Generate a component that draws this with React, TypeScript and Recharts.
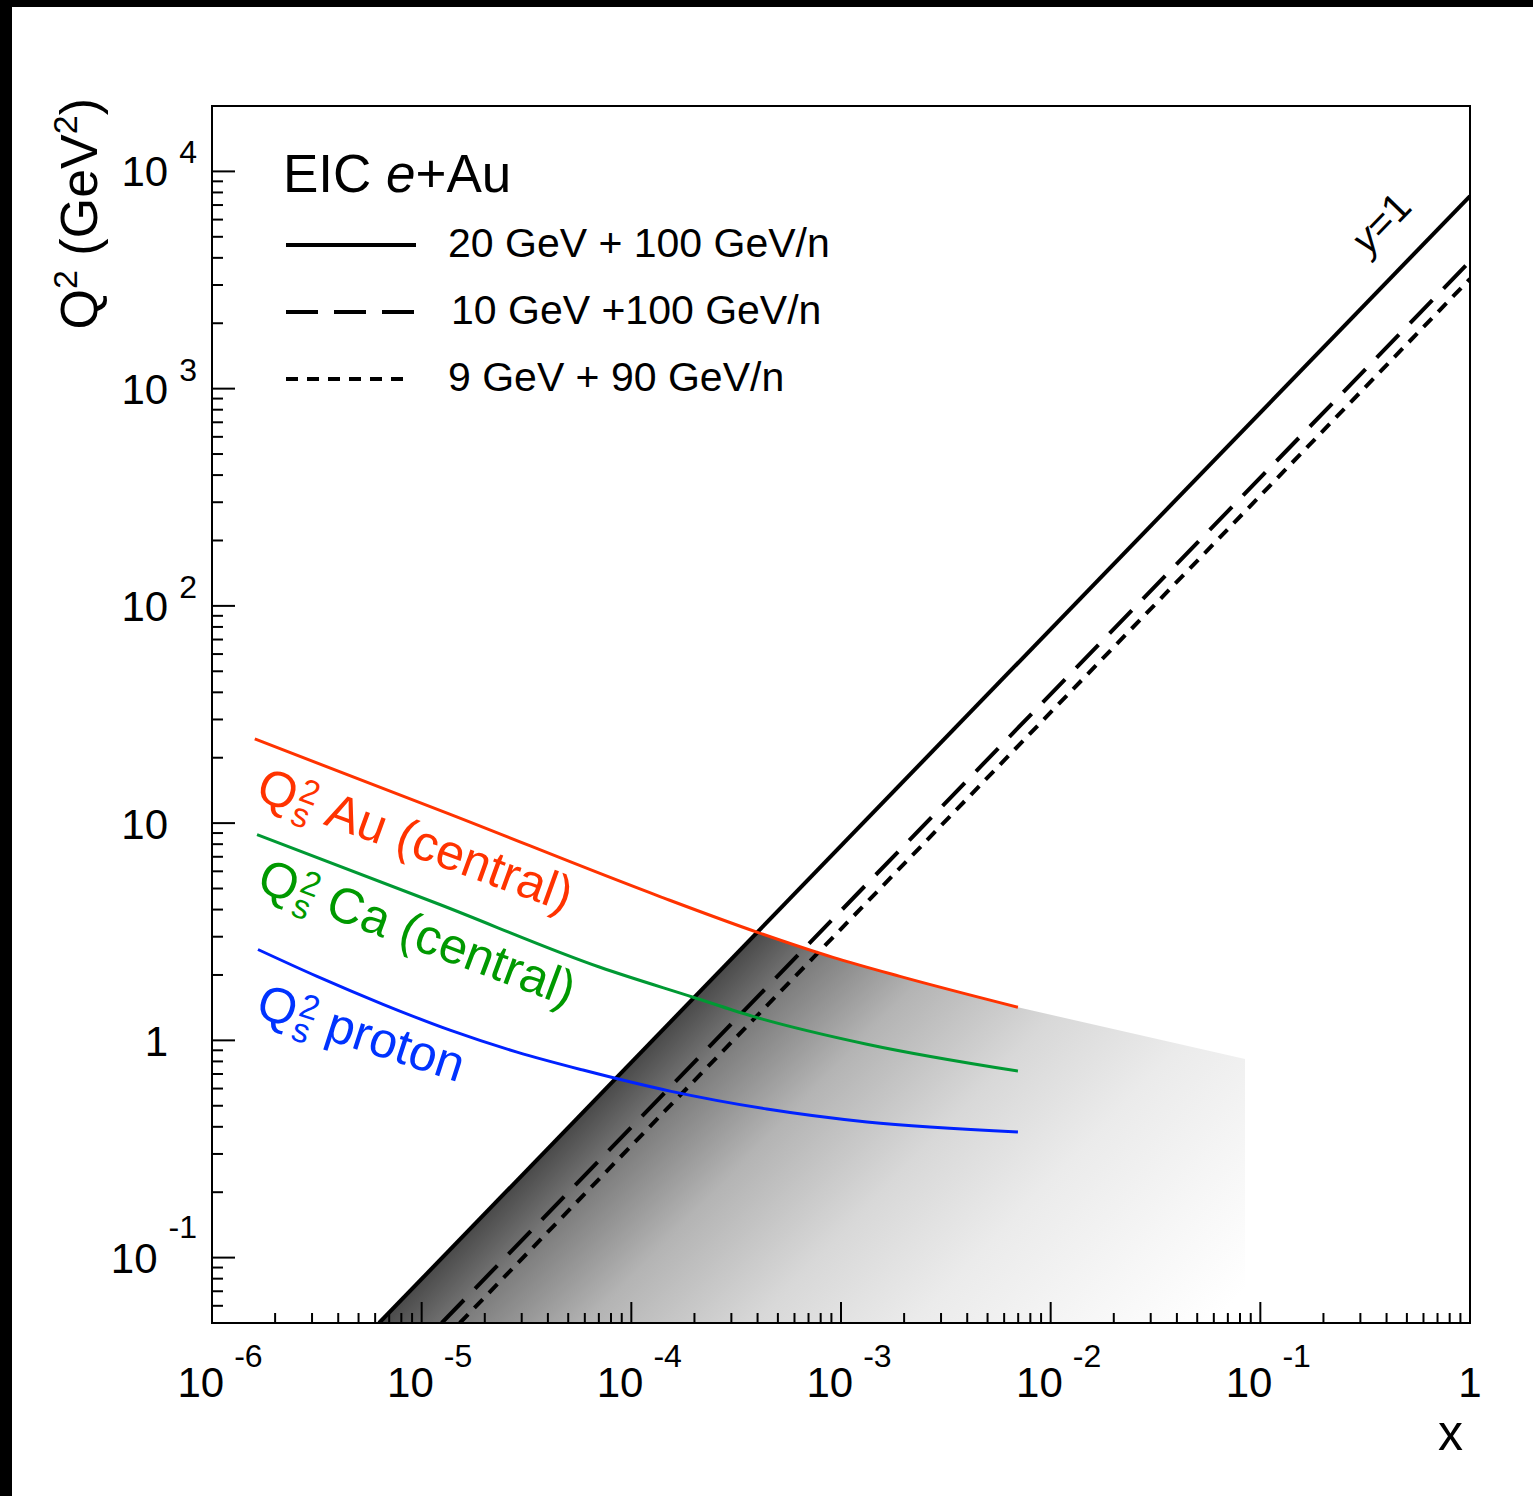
import React from 'react';
import { ComposedChart, Line, Area, XAxis, YAxis } from 'recharts';

// axis ranges and decade ticks
const xDomain = [1e-6, 1];
const yDomain = [0.05, 20000];
const xMajorTicks = [1e-6, 1e-5, 1e-4, 1e-3, 1e-2, 1e-1, 1];
const yMajorTicks = [0.1, 1, 10, 100, 1000, 10000];

// y=1 kinematic limits, Q2 (GeV2) vs x
const beam20x100 = [
  { x: 6.26e-6, q2: 0.05 },
  { x: 1, q2: 7700 },
];
const beam10x100 = [
  { x: 1.246e-5, q2: 0.05 },
  { x: 1, q2: 3860 },
];
const beam9x90 = [
  { x: 1.52e-5, q2: 0.05 },
  { x: 1, q2: 3200 },
];

// saturation scale curves
const qsAu = [
  { x: 1.6e-6, q2: 24.4 },
  { x: 1.36e-5, q2: 11.0 },
  { x: 1.37e-4, q2: 4.59 },
  { x: 3.97e-4, q2: 3.15 },
  { x: 9.16e-4, q2: 2.41 },
  { x: 1.91e-3, q2: 1.97 },
  { x: 6.98e-3, q2: 1.42 },
];
const qsCa = [
  { x: 1.64e-6, q2: 8.85 },
  { x: 1.22e-5, q2: 4.22 },
  { x: 7.09e-5, q2: 2.17 },
  { x: 1.97e-4, q2: 1.58 },
  { x: 3.8e-4, q2: 1.29 },
  { x: 1.33e-3, q2: 0.96 },
  { x: 6.98e-3, q2: 0.722 },
];
const qsProton = [
  { x: 1.657e-6, q2: 2.62 },
  { x: 3.17e-6, q2: 1.97 },
  { x: 6.54e-6, q2: 1.466 },
  { x: 1.365e-5, q2: 1.114 },
  { x: 2.85e-5, q2: 0.883 },
  { x: 5.88e-5, q2: 0.73 },
  { x: 1.53e-4, q2: 0.584 },
  { x: 4.43e-4, q2: 0.483 },
  { x: 1.33e-3, q2: 0.421 },
  { x: 6.98e-3, q2: 0.379 },
];
// the shaded band runs on past the end of the Au curve
const shadeTail = [{ x: 0.0845, q2: 0.82 }];

const legendItems = [
  { label: '20 GeV + 100 GeV/n', dash: undefined, len: 130, dx: 0 },
  { label: '10 GeV +100 GeV/n', dash: '32 16', len: 130, dx: 3 },
  { label: '9 GeV + 90 GeV/n', dash: '12 9', len: 120, dx: 0 },
];

const FONT = "'Liberation Sans', Arial, Helvetica, sans-serif";

const minorTicks = (majors: number[], lo: number, hi: number) => {
  const out: number[] = [];
  majors.concat([majors[0] / 10, majors[majors.length - 1] * 10]).forEach((m) => {
    for (let k = 2; k <= 9; k++) {
      const v = m * k;
      if (v >= lo * 0.999 && v <= hi * 1.001) out.push(v);
    }
  });
  return out;
};

const xTicks = [...xMajorTicks, ...minorTicks(xMajorTicks, xDomain[0], xDomain[1])];
const yTicks = [...yMajorTicks, ...minorTicks(yMajorTicks, yDomain[0], yDomain[1])];

const isMajor = (v: number) => Math.abs(Math.log10(v) - Math.round(Math.log10(v))) < 1e-6;

// Q2 on the y=1 line of the top beam config, interpolated in log space
const lineAt = (x: number) => {
  const [a, b] = beam20x100;
  const t = (Math.log10(x) - Math.log10(a.x)) / (Math.log10(b.x) - Math.log10(a.x));
  return Math.pow(10, Math.log10(a.q2) + t * (Math.log10(b.q2) - Math.log10(a.q2)));
};
const shadeData = [
  beam20x100[0],
  ...qsAu.filter((p) => p.q2 <= lineAt(p.x) * 1.05),
  ...shadeTail,
];

const XTick = (props: any) => {
  const { x, y, payload } = props;
  const v = payload.value;
  const major = isMajor(v);
  const n = Math.round(Math.log10(v));
  return (
    <g>
      <line x1={x} x2={x} y1={y} y2={y - (major ? 21 : 10)} stroke="#000" strokeWidth={2} />
      {major &&
        (n === 0 ? (
          <text x={x} y={y + 74} textAnchor="middle" fontSize={42} fontFamily={FONT}>
            1
          </text>
        ) : (
          <text x={x + 8} y={y + 74} textAnchor="middle" fontSize={42} fontFamily={FONT}>
            10
            <tspan dx={10} dy={-30} fontSize={32}>
              {n}
            </tspan>
          </text>
        ))}
    </g>
  );
};

const YTick = (props: any) => {
  const { x, y, payload } = props;
  const v = payload.value;
  const major = isMajor(v);
  const n = Math.round(Math.log10(v));
  let label = null;
  if (major) {
    if (n === 0 || n === 1) {
      label = (
        <text x={x - 44} y={y + 16} textAnchor="end" fontSize={42} fontFamily={FONT}>
          {n === 0 ? '1' : '10'}
        </text>
      );
    } else {
      label = (
        <text x={x - 15} y={y + 15} textAnchor="end" fontSize={42} fontFamily={FONT}>
          10
          <tspan dx={11} dy={n < 0 ? -35 : -23} fontSize={32}>
            {n}
          </tspan>
        </text>
      );
    }
  }
  return (
    <g>
      <line x1={x} x2={x + (major ? 23 : 11)} y1={y} y2={y} stroke="#000" strokeWidth={2} />
      {label}
    </g>
  );
};

const QsLabel = ({ x, y, angle, color, text }: any) => (
  <text
    transform={`translate(${x},${y}) rotate(${angle})`}
    fill={color}
    fontSize={50}
    fontFamily={FONT}
  >
    Q
    <tspan dx={2} dy={-14} fontSize={34}>
      2
    </tspan>
    <tspan dx={-18.9} dy={25} fontSize={34}>
      s
    </tspan>
    <tspan dx={15} dy={-11}>
      {text}
    </tspan>
  </text>
);

export default function App() {
  return (
    <div style={{ position: 'relative', width: 1533, height: 1496, background: '#fff', fontFamily: FONT }}>
      <style>{'body{margin:0;}'}</style>
      <ComposedChart width={1533} height={1496} margin={{ top: 106, right: 63, bottom: 143, left: 152 }}>
        <defs>
          <linearGradient id="shade" x1={0} y1={1} x2={0.808} y2={1.354}>
            <stop offset="0" stopColor="#4a4a4a" />
            <stop offset="0.1" stopColor="#7e7e7e" />
            <stop offset="0.25" stopColor="#b4b4b4" />
            <stop offset="0.45" stopColor="#d8d8d8" />
            <stop offset="0.64" stopColor="#ebebeb" />
            <stop offset="0.85" stopColor="#f7f7f7" />
            <stop offset="1" stopColor="#ffffff" />
          </linearGradient>
        </defs>
        <XAxis
          dataKey="x"
          type="number"
          scale="log"
          domain={xDomain}
          allowDataOverflow
          ticks={xTicks}
          interval={0}
          tick={XTick}
          tickSize={0}
          tickMargin={0}
          tickLine={false}
          axisLine={{ stroke: '#000', strokeWidth: 2 }}
          height={30}
        />
        <YAxis
          dataKey="q2"
          type="number"
          scale="log"
          domain={yDomain}
          allowDataOverflow
          ticks={yTicks}
          interval={0}
          tick={YTick}
          tickSize={0}
          tickMargin={0}
          tickLine={false}
          axisLine={{ stroke: '#000', strokeWidth: 2 }}
          width={60}
        />
        <Area
          data={shadeData}
          dataKey="q2"
          type="linear"
          baseValue={yDomain[0]}
          fill="url(#shade)"
          fillOpacity={1}
          stroke="none"
          isAnimationActive={false}
          dot={false}
          activeDot={false}
        />
        <Line data={beam20x100} dataKey="q2" type="linear" stroke="#000" strokeWidth={4} dot={false} activeDot={false} isAnimationActive={false} />
        <Line data={beam10x100} dataKey="q2" type="linear" stroke="#000" strokeWidth={4} strokeDasharray="32 16" dot={false} activeDot={false} isAnimationActive={false} />
        <Line data={beam9x90} dataKey="q2" type="linear" stroke="#000" strokeWidth={4} strokeDasharray="12 9" dot={false} activeDot={false} isAnimationActive={false} />
        <Line data={qsAu} dataKey="q2" type="monotone" stroke="#ff3300" strokeWidth={3} dot={false} activeDot={false} isAnimationActive={false} />
        <Line data={qsCa} dataKey="q2" type="monotone" stroke="#009933" strokeWidth={3} dot={false} activeDot={false} isAnimationActive={false} />
        <Line data={qsProton} dataKey="q2" type="monotone" stroke="#0022ff" strokeWidth={3} dot={false} activeDot={false} isAnimationActive={false} />
      </ComposedChart>

      <svg
        width={1533}
        height={1496}
        style={{ position: 'absolute', left: 0, top: 0, pointerEvents: 'none' }}
        fontFamily={FONT}
      >
        {/* page edge strips */}
        <rect x={0} y={0} width={1533} height={7} fill="#000" />
        <rect x={0} y={0} width={12} height={1496} fill="#000" />
        {/* frame */}
        <rect x={212} y={106} width={1258} height={1217} fill="none" stroke="#000" strokeWidth={2} />

        {/* axis titles */}
        <text transform="translate(97,98) rotate(-90)" textAnchor="end" fontSize={52}>
          Q
          <tspan dy={-20} fontSize={34}>2</tspan>
          <tspan dy={20}> (GeV</tspan>
          <tspan dy={-20} fontSize={34}>2</tspan>
          <tspan dy={20}>)</tspan>
        </text>
        <text x={1463} y={1450} textAnchor="end" fontSize={50}>
          x
        </text>

        {/* legend */}
        <text x={283} y={192} fontSize={53}>
          EIC <tspan fontStyle="italic">e</tspan>+Au
        </text>
        {legendItems.map((item, i) => (
          <g key={item.label}>
            <line
              x1={286}
              x2={286 + item.len}
              y1={245 + i * 67}
              y2={245 + i * 67}
              stroke="#000"
              strokeWidth={4}
              strokeDasharray={item.dash}
            />
            <text x={448 + item.dx} y={257 + i * 67} fontSize={41}>
              {item.label}
            </text>
          </g>
        ))}

        {/* curve labels */}
        <QsLabel x={254} y={799} angle={20} color="#ff3300" text="Au (central)" />
        <QsLabel x={255} y={890} angle={20.5} color="#009900" text="Ca (central)" />
        <QsLabel x={254} y={1016} angle={18} color="#0033ff" text="proton" />
        <text transform="translate(1368,256) rotate(-46)" fontSize={40}>
          <tspan fontStyle="italic">y</tspan>=1
        </text>
      </svg>
    </div>
  );
}
